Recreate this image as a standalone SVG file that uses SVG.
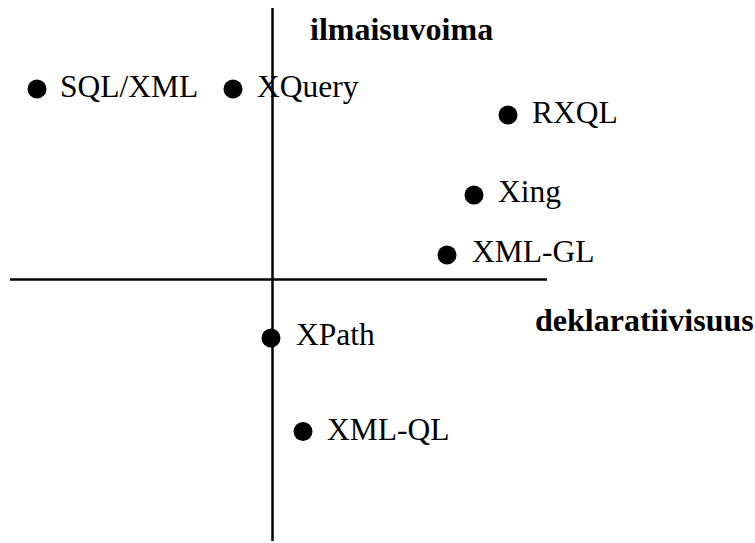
<svg xmlns="http://www.w3.org/2000/svg" width="755" height="543" viewBox="0 0 755 543">
<style>
.ax{stroke:#000;stroke-width:2.5;fill:none}
.dot{fill:#000}
</style>
<rect width="755" height="543" fill="#fff"/>
<g id="axes">
<line class="ax" x1="272.5" y1="8" x2="272.5" y2="541"/>
<line class="ax" x1="10" y1="279.5" x2="547" y2="279.5"/>
</g>
<g id="axis-labels" font-family="Liberation Serif, serif" font-size="32" font-weight="bold" fill="#000">
<text x="310" y="40">ilmaisuvoima</text>
<text x="535" y="331">deklaratiivisuus</text>
</g>
<g font-family="Liberation Serif, serif" font-size="31.5" fill="#000">
<g id="node-sqlxml"><circle class="dot" cx="37" cy="89" r="9.5"/><text x="60" y="97">SQL/XML</text></g>
<g id="node-xquery"><circle class="dot" cx="233" cy="89" r="9.5"/><text x="257" y="97">XQuery</text></g>
<g id="node-rxql"><circle class="dot" cx="508" cy="115" r="9.5"/><text x="532" y="123">RXQL</text></g>
<g id="node-xing"><circle class="dot" cx="474" cy="195" r="9.5"/><text x="498" y="202">Xing</text></g>
<g id="node-xmlgl"><circle class="dot" cx="447" cy="255" r="9.5"/><text x="472" y="262">XML-GL</text></g>
<g id="node-xpath"><circle class="dot" cx="271" cy="338" r="9.5"/><text x="296" y="345">XPath</text></g>
<g id="node-xmlql"><circle class="dot" cx="303" cy="431.5" r="9.5"/><text x="327" y="440">XML-QL</text></g>
</g>
</svg>
